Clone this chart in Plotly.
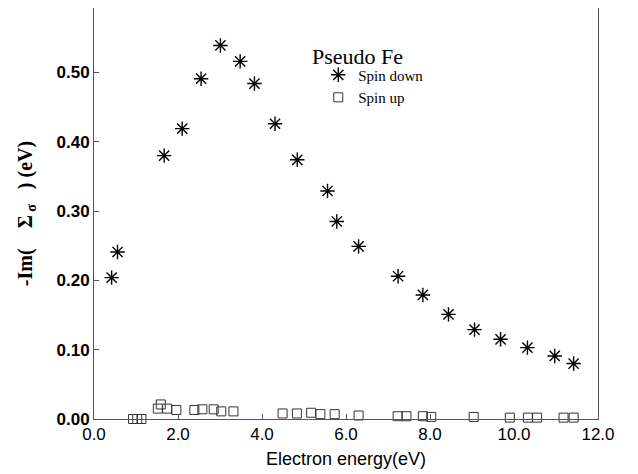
import plotly.graph_objects as go

# Spin down (asterisks)
down_x = [0.42, 0.56, 1.67, 2.10, 2.55, 3.01, 3.48, 3.82, 4.31, 4.84, 5.56, 5.78,
          6.30, 7.24, 7.83, 8.44, 9.06, 9.68, 10.32, 10.97, 11.42]
down_y = [0.204, 0.241, 0.380, 0.419, 0.491, 0.539, 0.516, 0.484, 0.426, 0.374, 0.329, 0.285,
          0.249, 0.206, 0.179, 0.151, 0.129, 0.115, 0.103, 0.091, 0.080]

# Spin up (open squares)
up_x = [0.93, 1.03, 1.13, 1.52, 1.59, 1.74, 1.96, 2.39, 2.58, 2.85, 3.03, 3.32,
        4.49, 4.83, 5.17, 5.39, 5.73, 6.30, 7.23, 7.44, 7.83, 8.03, 9.04, 9.90,
        10.33, 10.55, 11.18, 11.42]
up_y = [0.000, 0.000, 0.000, 0.015, 0.021, 0.015, 0.013, 0.013, 0.014, 0.014, 0.011, 0.011,
        0.008, 0.008, 0.009, 0.007, 0.007, 0.005, 0.004, 0.004, 0.004, 0.003, 0.003, 0.002,
        0.002, 0.002, 0.002, 0.002]

x_ticks = [0, 2, 4, 6, 8, 10, 12]
y_ticks = [0.0, 0.1, 0.2, 0.3, 0.4, 0.5]

fig = go.Figure()
fig.add_trace(go.Scatter(
    x=down_x, y=down_y, mode="markers", name="Spin down",
    marker=dict(symbol="asterisk-open", size=12, color="black",
                line=dict(color="black", width=1.4)),
    cliponaxis=False,
))
fig.add_trace(go.Scatter(
    x=up_x, y=up_y, mode="markers", name="Spin up",
    marker=dict(symbol="square-open", size=9, color="#333333",
                line=dict(color="#333333", width=1)),
    cliponaxis=False,
))

axis_common = dict(
    showline=True, linecolor="#555555", linewidth=1, mirror=True,
    ticks="inside", ticklen=5, tickcolor="#555555", showgrid=False, zeroline=False,
)

fig.add_annotation(
    text="Pseudo Fe", xref="paper", yref="paper", x=0.428, y=0.881,
    xanchor="left", yanchor="middle", showarrow=False,
    font=dict(family="Liberation Serif, Times New Roman", size=22, color="black"),
)

# Page body has an 8px margin: size and margins compensate for it
fig.update_layout(
    width=630, height=466,
    margin=dict(l=86, r=40, t=0, b=55),
    paper_bgcolor="white", plot_bgcolor="white",
    showlegend=True,
    legend=dict(
        x=0.445, y=0.877, xanchor="left", yanchor="top",
        bgcolor="rgba(0,0,0,0)",
        font=dict(family="Liberation Serif, Times New Roman", size=15, color="black"),
        tracegroupgap=0, itemwidth=30,
    ),
    xaxis=dict(
        range=[0, 12], tickvals=x_ticks, ticktext=[f"{v:.1f}" for v in x_ticks],
        tickfont=dict(family="Liberation Sans, Arial", size=17, color="black"),
        title=dict(text="Electron energy(eV)", standoff=8,
                   font=dict(family="Liberation Sans, Arial", size=18, color="black")),
        **axis_common,
    ),
    yaxis=dict(
        range=[0, 0.593], tickvals=y_ticks,
        ticktext=[f"<b>{v:.2f}</b>" for v in y_ticks],
        tickfont=dict(family="Liberation Sans, Arial", size=17, color="black"),
        title=dict(text="<b>-Im(&nbsp;&nbsp;&nbsp;&nbsp;Σ<sub>&nbsp;σ</sub>&nbsp;&nbsp;&nbsp;) (eV)</b>",
                   standoff=18,
                   font=dict(family="Liberation Serif, Times New Roman", size=20, color="black")),
        **axis_common,
    ),
)

fig.write_html("out.html")
